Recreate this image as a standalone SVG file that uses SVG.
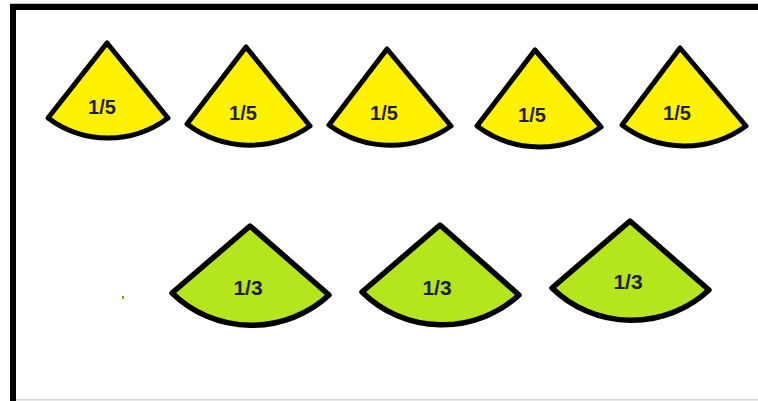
<svg xmlns="http://www.w3.org/2000/svg" width="758" height="401" viewBox="0 0 758 401">
<style>
.y{fill:#FFF200;stroke:#000;stroke-width:5;stroke-linejoin:round;stroke-linecap:square}
.g{fill:#B5E61D;stroke:#000;stroke-width:5.5;stroke-linejoin:round;stroke-linecap:square}
.t{font-family:"Liberation Sans",Arial,sans-serif;font-weight:bold;fill:#1e1e40;text-anchor:middle}
.ty{font-size:20px}
.tg{font-size:21px}
</style>
<rect x="0" y="0" width="758" height="401" fill="#fff"/>
<g id="border">
<rect x="10" y="3.5" width="748" height="1" fill="#888"/>
<rect x="10" y="4" width="748" height="6" fill="#000"/>
<rect x="10" y="4" width="6" height="397" fill="#000"/>
<rect x="16" y="399" width="742" height="1.5" fill="#d4d4d4"/>
</g>
<g id="fifth1"><path class="y" d="M107,43 L48,118 A100,100 0 0 0 168,118 Z"/><text class="t ty" x="102" y="114">1/5</text></g>
<g id="fifth2"><path class="y" d="M246,47 L187,124 A104,104 0 0 0 310,126 Z"/><text class="t ty" x="243" y="120">1/5</text></g>
<g id="fifth3"><path class="y" d="M387,49 L329,125 A104,104 0 0 0 451,126 Z"/><text class="t ty" x="384" y="120">1/5</text></g>
<g id="fifth4"><path class="y" d="M535,50 L477,126 A104,104 0 0 0 601,127 Z"/><text class="t ty" x="532" y="122">1/5</text></g>
<g id="fifth5"><path class="y" d="M680,48 L622,125 A104,104 0 0 0 746,126 Z"/><text class="t ty" x="677" y="120">1/5</text></g>
<g id="third1"><path class="g" d="M250,226 L172,293 A114,114 0 0 0 329,295 Z"/><text class="t tg" x="248" y="295">1/3</text></g>
<g id="third2"><path class="g" d="M440,225 L362,292 A114,114 0 0 0 519,295 Z"/><text class="t tg" x="437" y="295">1/3</text></g>
<g id="third3"><path class="g" d="M630,221 L552,288 A114,114 0 0 0 709,290 Z"/><text class="t tg" x="628" y="289">1/3</text></g>
<rect x="122" y="296" width="2" height="3" fill="#9a9a20"/>
</svg>
